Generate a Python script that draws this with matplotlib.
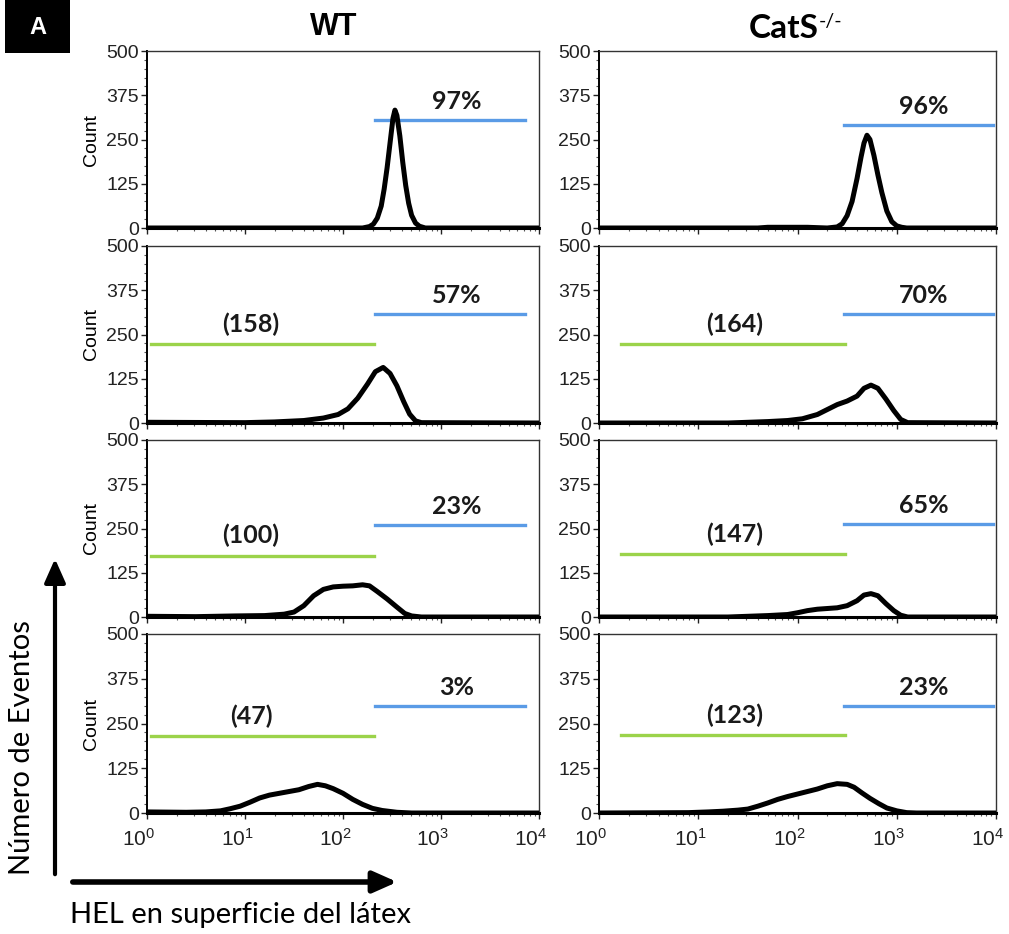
import numpy as np
import matplotlib
matplotlib.use("Agg")
import matplotlib.pyplot as plt
from matplotlib.patches import FancyArrowPatch, Rectangle
from matplotlib.transforms import ScaledTranslation
from matplotlib.ticker import FixedLocator, LogLocator, MultipleLocator, NullFormatter

# --- data (x given as log10 of fluorescence, y = count) ---
wt1_logx = [0, 2.2, 2.27, 2.31, 2.35, 2.39, 2.42, 2.45, 2.48, 2.51, 2.53, 2.55, 2.58, 2.61,
            2.64, 2.67, 2.7, 2.74, 2.78, 2.84, 4]
wt1_count = [0, 0, 4, 11, 28, 62, 110, 170, 240, 310, 333, 318, 260, 185, 120, 70, 36, 14, 5, 0, 0]

wt2_logx = [0, 1.0, 1.3, 1.6, 1.8, 1.95, 2.05, 2.15, 2.25, 2.33, 2.41, 2.48, 2.55, 2.62, 2.68, 2.74, 2.8, 4]
wt2_count = [2, 1, 3, 7, 14, 24, 40, 70, 110, 145, 157, 140, 105, 60, 25, 6, 1, 0]

wt3_logx = [0, 0.5, 0.9, 1.2, 1.4, 1.5, 1.6, 1.7, 1.8, 1.9, 2.0, 2.1, 2.2, 2.27, 2.35, 2.45, 2.55, 2.63, 2.7, 2.8, 4]
wt3_count = [2, 1, 3, 4, 8, 14, 32, 60, 78, 85, 87, 88, 91, 88, 72, 51, 28, 10, 3, 0, 0]

wt4_logx = [0, 0.4, 0.6, 0.75, 0.85, 0.95, 1.05, 1.15, 1.25, 1.35, 1.45, 1.55, 1.65, 1.74,
            1.82, 1.9, 2.0, 2.1, 2.2, 2.3, 2.4, 2.55, 2.7, 4]
wt4_count = [3, 2, 3, 6, 12, 19, 30, 42, 50, 55, 60, 65, 74, 80, 76, 68, 55, 38, 24, 13, 7, 2, 0, 0]

ko1_logx = [0, 1.6, 1.7, 2.1, 2.3, 2.4, 2.45, 2.5, 2.55, 2.6, 2.64, 2.67, 2.7, 2.73, 2.77, 2.81,
            2.85, 2.9, 2.95, 3.0, 3.05, 3.1, 4]
ko1_count = [0, 0, 2, 2, 0, 3, 12, 35, 75, 140, 200, 240, 262, 250, 205, 150, 100, 48, 18, 6, 2, 0, 0]

ko2_logx = [0, 1.3, 1.5, 1.7, 1.9, 2.05, 2.2, 2.3, 2.4, 2.5, 2.6, 2.67, 2.74, 2.81, 2.89, 2.97,
            3.04, 3.11, 4]
ko2_count = [0, 0, 2, 4, 7, 12, 24, 38, 52, 62, 76, 98, 107, 98, 68, 35, 10, 1, 0]

ko3_logx = [0, 1.3, 1.5, 1.7, 1.9, 2.0, 2.1, 2.2, 2.3, 2.4, 2.5, 2.6, 2.67, 2.74, 2.81, 2.89,
            2.97, 3.04, 3.11, 4]
ko3_count = [0, 0, 2, 4, 7, 12, 18, 22, 24, 26, 32, 46, 62, 66, 60, 38, 18, 5, 0, 0]

ko4_logx = [0, 0.9, 1.1, 1.25, 1.4, 1.5, 1.6, 1.7, 1.8, 1.9, 2.0, 2.1, 2.2, 2.3, 2.4, 2.5,
            2.57, 2.65, 2.73, 2.82, 2.9, 3.0, 3.1, 3.2, 4]
ko4_count = [0, 1, 3, 5, 8, 11, 19, 28, 38, 46, 53, 60, 67, 76, 82, 80, 72, 56, 41, 26, 14, 6, 1, 0, 0]

wt_curves = [(wt1_logx, wt1_count), (wt2_logx, wt2_count), (wt3_logx, wt3_count), (wt4_logx, wt4_count)]
ko_curves = [(ko1_logx, ko1_count), (ko2_logx, ko2_count), (ko3_logx, ko3_count), (ko4_logx, ko4_count)]

# gates (log10 range) and the height they are drawn at
wt_pos_gate = (2.33, 3.86)
wt_neg_gate = (0.04, 2.32)
ko_pos_gate = (2.47, 3.97)
ko_neg_gate = (0.22, 2.48)
wt_pos_level = [304, 308, 259, 299]
wt_neg_level = [None, 223, 173, 215]
ko_pos_level = [292, 308, 263, 298]
ko_neg_level = [None, 223, 178, 217]

wt_pct = ["97%", "57%", "23%", "3%"]
wt_mfi = [None, "(158)", "(100)", "(47)"]
ko_pct = ["96%", "70%", "65%", "23%"]
ko_mfi = [None, "(164)", "(147)", "(123)"]

y_ticks = [0, 125, 250, 375, 500]
x_decades = [0, 1, 2, 3, 4]

# --- layout ---
W, H = 1009, 934
fig = plt.figure(figsize=(W / 100, H / 100), dpi=100)


def rect(x0, y0, x1, y1):
    return [x0 / W, 1 - y1 / H, (x1 - x0) / W, (y1 - y0) / H]


col_x = [(147, 539), (599, 996)]
row_y = [(51, 228), (246, 423), (440, 617), (634, 813)]
mfi_at = [1.06, 1.37]
pct_at = [3.16, 3.27]

BLUE = "#5a9be6"
GREEN = "#9bd34a"
arial = "Liberation Sans"
calibri = "Lato"

columns = [
    (wt_curves, wt_pos_gate, wt_neg_gate, wt_pos_level, wt_neg_level, wt_pct, wt_mfi),
    (ko_curves, ko_pos_gate, ko_neg_gate, ko_pos_level, ko_neg_level, ko_pct, ko_mfi),
]

for c, (curves, pgate, ngate, plev, nlev, pct, mfi) in enumerate(columns):
    for r in range(4):
        ax = fig.add_axes(rect(col_x[c][0], row_y[r][0], col_x[c][1], row_y[r][1]))
        lx, cnt = curves[r]
        ax.plot(10 ** np.array(lx), cnt, color="black", lw=3.6, solid_joinstyle="round",
                solid_capstyle="round", zorder=3)
        ax.set_xscale("log")
        ax.set_xlim(1, 1e4)
        ax.set_ylim(0, 500)

        # gates + labels
        ax.plot([10 ** pgate[0], 10 ** pgate[1]], [plev[r], plev[r]], color=BLUE, lw=2.4, zorder=2)
        ax.annotate(pct[r], (10 ** pct_at[c], plev[r]), xytext=(0, 5), textcoords="offset points",
                    ha="center", va="bottom", fontsize=18, fontweight="bold",
                    family=calibri, color="#1a1a1a")
        if nlev[r] is not None:
            ax.plot([10 ** ngate[0], 10 ** ngate[1]], [nlev[r], nlev[r]], color=GREEN, lw=2.4, zorder=2)
            ax.annotate(mfi[r], (10 ** mfi_at[c], nlev[r]), xytext=(0, 6), textcoords="offset points",
                        ha="center", va="bottom", fontsize=18, fontweight="bold",
                        family=calibri, color="#1a1a1a")

        # axes styling
        ax.yaxis.set_major_locator(FixedLocator(y_ticks))
        ax.yaxis.set_minor_locator(MultipleLocator(25))
        ax.set_yticklabels([str(v) for v in y_ticks], family=arial, fontsize=14)
        ax.xaxis.set_major_locator(FixedLocator([10 ** d for d in x_decades]))
        ax.xaxis.set_minor_locator(LogLocator(base=10, subs=np.arange(2, 10)))
        ax.xaxis.set_minor_formatter(NullFormatter())
        ax.tick_params(direction="out", length=4, width=1, pad=2, colors="#222222")
        ax.tick_params(which="minor", direction="out", length=2, width=0.8, colors="#555555")
        if r == 3:
            ax.tick_params(axis="x", pad=7)
            labels = ax.set_xticklabels([r"$\mathregular{10^{%d}}$" % d for d in x_decades],
                                        family=arial, fontsize=15, ha="right")
            for lab in labels:
                lab.set_transform(lab.get_transform() + ScaledTranslation(6 / 72, 0, fig.dpi_scale_trans))
        else:
            ax.set_xticklabels([])
        for side in ("top", "right"):
            ax.spines[side].set_color("#333333")
            ax.spines[side].set_linewidth(1.0)
        ax.spines["left"].set_color("black")
        ax.spines["left"].set_linewidth(1.4)
        ax.spines["bottom"].set_color("black")
        ax.spines["bottom"].set_linewidth(2.2)
        if c == 0:
            ax.set_ylabel("Count", family=arial, fontsize=14, labelpad=4)

# column titles
fig.text(334 / W, 1 - 27 / H, "WT", family=arial, fontweight="bold", fontsize=22,
         ha="center", va="center")
fig.text(784 / W, 1 - 28 / H, "CatS", family=calibri, fontweight="bold", fontsize=24,
         ha="center", va="center")
fig.text(819 / W, 1 - 21 / H, "-/-", family=calibri, fontsize=14, ha="left", va="center")

# panel letter
fig.add_artist(Rectangle((5 / W, 1 - 53 / H), 65 / W, 53 / H, transform=fig.transFigure,
                         facecolor="black", edgecolor="none"))
fig.text(38 / W, 1 - 27 / H, "A", color="white", family=arial, fontweight="bold",
         fontsize=17, ha="center", va="center")

# big axis arrows
fig.add_artist(FancyArrowPatch((55 / W, 1 - 877 / H), (55 / W, 1 - 556 / H), transform=fig.transFigure,
                               arrowstyle="-|>,head_length=0.9,head_width=0.4", mutation_scale=16,
                               lw=3, color="black"))
fig.add_artist(FancyArrowPatch((70 / W, 1 - 882 / H), (400 / W, 1 - 882 / H), transform=fig.transFigure,
                               arrowstyle="-|>,head_length=0.9,head_width=0.4", mutation_scale=16,
                               lw=4, color="black"))
fig.text(22 / W, 1 - 748 / H, "Número de Eventos", family=calibri, fontsize=21, rotation=90,
         ha="center", va="center")
fig.text(240 / W, 1 - 915 / H, "HEL en superficie del látex", family=calibri, fontsize=21,
         ha="center", va="center")

fig.savefig("out.png", dpi=100)
